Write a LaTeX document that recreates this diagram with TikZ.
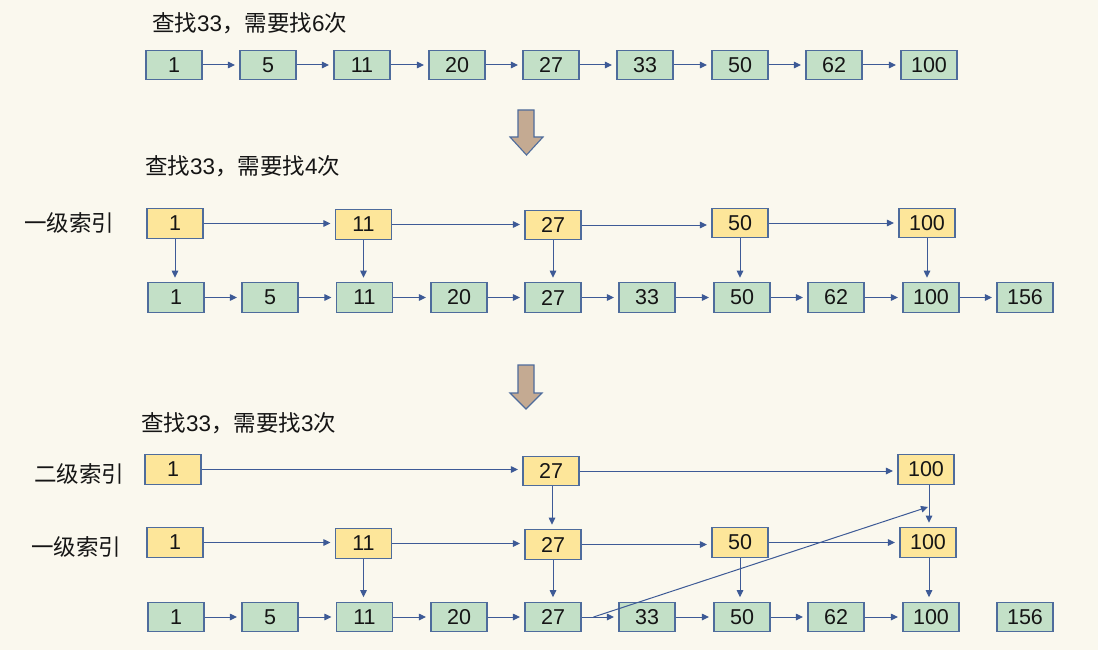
\documentclass[tikz,border=0pt]{standalone}
\usepackage{fontspec}
\setmainfont{Liberation Sans}
\newfontfamily\cjk{Noto Sans CJK SC}
\usetikzlibrary{arrows.meta,calc}
\definecolor{bg}{HTML}{FAF8EE}
\definecolor{gfill}{HTML}{C3E0C7}
\definecolor{yfill}{HTML}{FDE69A}
\definecolor{boxline}{HTML}{4E6C9C}
\definecolor{arrcol}{HTML}{3D5A96}
\definecolor{bigfill}{HTML}{C4AA92}
\definecolor{txt}{HTML}{151515}
\tikzset{
  box/.style={draw=boxline, line width=1.1pt, minimum width=56pt, minimum height=29.5pt, inner sep=0pt, text=txt, font=\fontsize{21.5}{25}\selectfont},
  gbox/.style={box, fill=gfill},
  ybox/.style={box, fill=yfill},
  arr/.style={draw=arrcol, line width=1pt, -{Triangle[length=7pt,width=6.5pt]}, shorten >=4.5pt},
  title/.style={anchor=west, inner sep=0pt, text=txt, font=\fontsize{22.5}{27}\selectfont},
  lbl/.style={anchor=west, inner sep=0pt, text=txt, font=\fontsize{22.5}{27}\selectfont\cjk},
  bigarrow/.style={draw=boxline, line width=1.1pt, fill=bigfill, line join=miter}
}
\begin{document}
\begin{tikzpicture}[x=1pt,y=-1pt]
\fill[bg] (0,0) rectangle (1098,650);
\useasboundingbox (0,0) rectangle (1098,650);

% ---------- section 1 ----------
\node[title] (t1) at (152,23) {{\cjk 查找}33{\cjk ，需要找}6{\cjk 次}};
\foreach \v/\x [count=\i] in {1/174,5/268,11/362,20/457,27/551,33/645,50/740,62/834,100/929}
  \node[gbox] (a\i) at (\x,65) {\v};
\foreach \i [evaluate=\i as \j using int(\i+1)] in {1,...,8}
  \draw[arr] (a\i.east) -- (a\i.east -| a\j.west);

\draw[bigarrow] (518,110) -- (534,110) -- (534,137) -- (543,137) -- (526.5,155) -- (510,137) -- (518,137) -- cycle;

% ---------- section 2 ----------
\node[title] (t2) at (145,166) {{\cjk 查找}33{\cjk ，需要找}4{\cjk 次}};
\node[lbl] (l2) at (24,223) {一级索引};
\foreach \v/\x [count=\i] in {1/176,5/270,11/364.5,20/459,27/553,33/647,50/742,62/836,100/931,156/1025}
  \node[gbox] (b\i) at (\x,297.5) {\v};
\foreach \i [evaluate=\i as \j using int(\i+1)] in {1,...,9}
  \draw[arr] (b\i.east) -- (b\i.east -| b\j.west);
\node[ybox] (i1) at (175,223.5) {1};
\node[ybox] (i2) at (363.5,224.5) {11};
\node[ybox] (i3) at (553,225) {27};
\node[ybox] (i4) at (740,223) {50};
\node[ybox] (i5) at (927,223) {100};
\draw[arr] (i1.east) -- (i1.east -| i2.west);
\draw[arr] (i2.east) -- (i2.east -| i3.west);
\draw[arr] (i3.east) -- (i3.east -| i4.west);
\draw[arr] (i4.east) -- (i4.east -| i5.west);
\draw[arr] (i1.south) -- (i1.south |- b1.north);
\draw[arr] (i2.south) -- (i2.south |- b3.north);
\draw[arr] (i3.south) -- (i3.south |- b5.north);
\draw[arr] (i4.south) -- (i4.south |- b7.north);
\draw[arr] (i5.south) -- (i5.south |- b9.north);

\draw[bigarrow] (518,365) -- (534,365) -- (534,393) -- (542,393) -- (526,409) -- (510,393) -- (518,393) -- cycle;

% ---------- section 3 ----------
\node[title] (t3) at (141,423) {{\cjk 查找}33{\cjk ，需要找}3{\cjk 次}};
\node[lbl] (l3a) at (34,474) {二级索引};
\node[lbl] (l3b) at (31,547) {一级索引};
\node[ybox] (s1) at (173,469.5) {1};
\node[ybox] (s2) at (551,471) {27};
\node[ybox] (s3) at (926,469.5) {100};
\node[ybox] (f1) at (175,542.5) {1};
\node[ybox] (f2) at (363.5,543.5) {11};
\node[ybox] (f3) at (553,544.5) {27};
\node[ybox] (f4) at (740,542.5) {50};
\node[ybox] (f5) at (928,542.5) {100};
\foreach \v/\x [count=\i] in {1/176,5/270,11/364.5,20/459,27/553,33/647,50/742,62/836,100/931,156/1025}
  \node[gbox] (c\i) at (\x,617) {\v};
\foreach \i [evaluate=\i as \j using int(\i+1)] in {1,...,8}
  \draw[arr] (c\i.east) -- (c\i.east -| c\j.west);
\draw[arr] (s1.east) -- (s1.east -| s2.west);
\draw[arr] (s2.east) -- (s2.east -| s3.west);
\draw[arr] (f1.east) -- (f1.east -| f2.west);
\draw[arr] (f2.east) -- (f2.east -| f3.west);
\draw[arr] (f3.east) -- (f3.east -| f4.west);
\draw[arr] (f4.east) -- (f4.east -| f5.west);
\coordinate (v1) at ($(s2.south)+(1,0)$);
\coordinate (v2) at ($(s3.south)+(3,0)$);
\coordinate (v3) at ($(f5.south)+(1,0)$);
\draw[arr] (v1) -- (v1 |- f3.north);
\draw[arr] (f2.south) -- (f2.south |- c3.north);
\draw[arr] (f3.south) -- (f3.south |- c5.north);
\draw[arr] (f4.south) -- (f4.south |- c7.north);
\draw[arr] (v2) -- (v2 |- f5.north);
\draw[arr] (v3) -- (v3 |- c9.north);
\coordinate (ds) at ($(c5.east)+(12,0)$);
\coordinate (de) at (928,507);
\draw[arr, shorten >=0pt] (ds) -- (de);
\end{tikzpicture}
\end{document}
